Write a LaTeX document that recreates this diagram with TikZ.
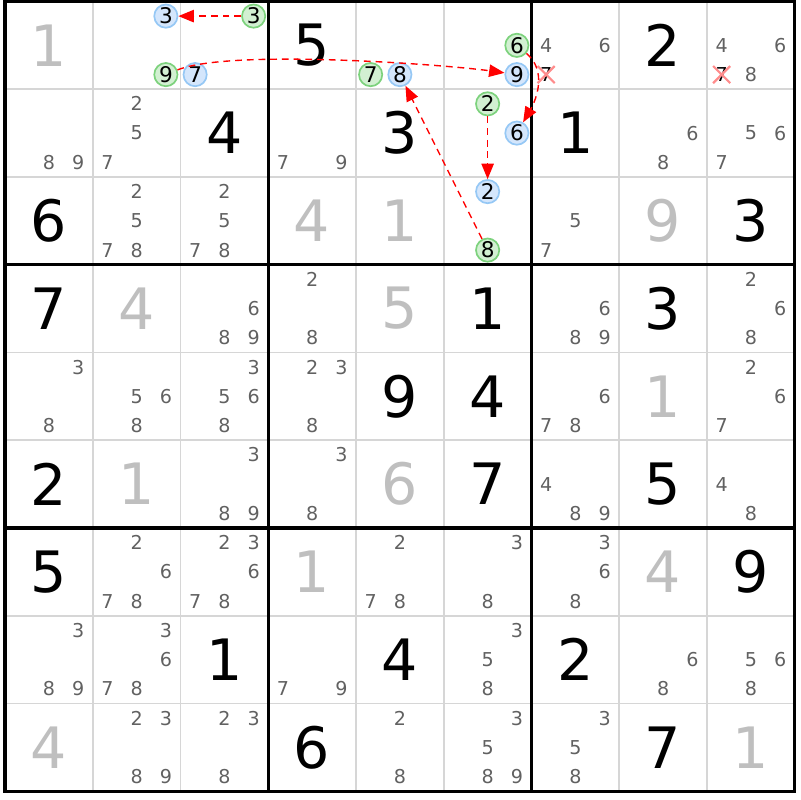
\documentclass[tikz,border=0pt]{standalone}
\usepackage{fontspec}
\setmainfont{DejaVu Sans}
\usepackage{tikz}
\usetikzlibrary{arrows.meta, shapes.misc}

\definecolor{blueline}{RGB}{150,200,245}
\definecolor{bluefill}{RGB}{212,230,252}
\definecolor{greenline}{RGB}{125,210,125}
\definecolor{greenfill}{RGB}{210,240,210}

\tikzset{
    given/.style={text=black!25, font=\fontsize{18.5}{20}\selectfont, inner sep=0pt},
    solved/.style={text=black, font=\fontsize{18.5}{20}\selectfont, inner sep=0pt},
    cand/.style={text=black!62, font=\fontsize{6.2}{7}\selectfont, inner sep=0pt},
    crossed/.style={cand, text=black, cross out, draw=red!45, line width=0.7pt, minimum size=0.17cm},
    bluecand/.style={circle, draw=blueline, fill=bluefill, line width=0.55pt, minimum size=0.265cm, inner sep=0pt, font=\fontsize{7}{8}\selectfont},
    greencand/.style={circle, draw=greenline, fill=greenfill, line width=0.55pt, minimum size=0.265cm, inner sep=0pt, font=\fontsize{7}{8}\selectfont},
    thingrid/.style={draw=black!16, line width=0.6pt},
    boxgrid/.style={draw=black, line width=1pt},
    link/.style={red, line width=0.45pt, dash pattern=on 2.2pt off 1.6pt, -{Triangle[length=5pt, width=4pt]}}
}

% candidates of one cell: [style]{row}{col}{digits}
\newcommand{\cands}[4][cand]{%
    \foreach \d in {#4}{
        \pgfmathsetmacro{\cx}{#3-1+(mod(\d-1,3)+0.5)/3}
        \pgfmathsetmacro{\cy}{-(#2-1)-(floor((\d-1)/3)+0.5)/3}
        \node[#1] (c#2#3\d) at (\cx,\cy) {\d};
    }}
% big digit: [style]{row}{col}{digit}
\newcommand{\bigd}[4][solved]{%
    \node[#1] (d#2#3) at (#3-0.5,-#2+0.5) {#4};}

\begin{document}
\begin{tikzpicture}
    \useasboundingbox (-0.057,0.017) rectangle (9.06,-9.10);

    % grid
    \foreach \i in {1,2,4,5,7,8} {
        \draw[thingrid] (\i,0) -- (\i,-9);
        \draw[thingrid] (0,-\i) -- (9,-\i);
    }
    \foreach \i in {3,6} {
        \draw[boxgrid] (\i,0) -- (\i,-9);
        \draw[boxgrid] (0,-\i) -- (9,-\i);
    }
    \draw[boxgrid] (0,0) rectangle (9,-9);

    % digits
    \bigd[given]{1}{1}{1}
    \bigd{1}{4}{5}
    \bigd{1}{8}{2}
    \bigd{2}{3}{4}
    \bigd{2}{5}{3}
    \bigd{2}{7}{1}
    \bigd{3}{1}{6}
    \bigd[given]{3}{4}{4}
    \bigd[given]{3}{5}{1}
    \bigd[given]{3}{8}{9}
    \bigd{3}{9}{3}
    \bigd{4}{1}{7}
    \bigd[given]{4}{2}{4}
    \bigd[given]{4}{5}{5}
    \bigd{4}{6}{1}
    \bigd{4}{8}{3}
    \bigd{5}{5}{9}
    \bigd{5}{6}{4}
    \bigd[given]{5}{8}{1}
    \bigd{6}{1}{2}
    \bigd[given]{6}{2}{1}
    \bigd[given]{6}{5}{6}
    \bigd{6}{6}{7}
    \bigd{6}{8}{5}
    \bigd{7}{1}{5}
    \bigd[given]{7}{4}{1}
    \bigd[given]{7}{8}{4}
    \bigd{7}{9}{9}
    \bigd{8}{3}{1}
    \bigd{8}{5}{4}
    \bigd{8}{7}{2}
    \bigd[given]{9}{1}{4}
    \bigd{9}{4}{6}
    \bigd{9}{8}{7}
    \bigd[given]{9}{9}{1}

    % candidates
    \cands[bluecand]{1}{2}{3}
    \cands[greencand]{1}{2}{9}
    \cands[greencand]{1}{3}{3}
    \cands[bluecand]{1}{3}{7}
    \cands[greencand]{1}{5}{7}
    \cands[bluecand]{1}{5}{8}
    \cands[greencand]{1}{6}{6}
    \cands[bluecand]{1}{6}{9}
    \cands{1}{7}{4,6}
    \cands[crossed]{1}{7}{7}
    \cands{1}{9}{4,6,8}
    \cands[crossed]{1}{9}{7}
    \cands{2}{1}{8,9}
    \cands{2}{2}{2,5,7}
    \cands{2}{4}{7,9}
    \cands[greencand]{2}{6}{2}
    \cands[bluecand]{2}{6}{6}
    \cands{2}{8}{6,8}
    \cands{2}{9}{5,6,7}
    \cands{3}{2}{2,5,7,8}
    \cands{3}{3}{2,5,7,8}
    \cands[bluecand]{3}{6}{2}
    \cands[greencand]{3}{6}{8}
    \cands{3}{7}{5,7}
    \cands{4}{3}{6,8,9}
    \cands{4}{4}{2,8}
    \cands{4}{7}{6,8,9}
    \cands{4}{9}{2,6,8}
    \cands{5}{1}{3,8}
    \cands{5}{2}{5,6,8}
    \cands{5}{3}{3,5,6,8}
    \cands{5}{4}{2,3,8}
    \cands{5}{7}{6,7,8}
    \cands{5}{9}{2,6,7}
    \cands{6}{3}{3,8,9}
    \cands{6}{4}{3,8}
    \cands{6}{7}{4,8,9}
    \cands{6}{9}{4,8}
    \cands{7}{2}{2,6,7,8}
    \cands{7}{3}{2,3,6,7,8}
    \cands{7}{5}{2,7,8}
    \cands{7}{6}{3,8}
    \cands{7}{7}{3,6,8}
    \cands{8}{1}{3,8,9}
    \cands{8}{2}{3,6,7,8}
    \cands{8}{4}{7,9}
    \cands{8}{6}{3,5,8}
    \cands{8}{8}{6,8}
    \cands{8}{9}{5,6,8}
    \cands{9}{2}{2,3,8,9}
    \cands{9}{3}{2,3,8}
    \cands{9}{5}{2,8}
    \cands{9}{6}{3,5,8,9}
    \cands{9}{7}{3,5,8}

    % chain
    \draw[link] (c133) -- (c123);
    \draw[link] (c129) to[out=22, in=172, looseness=0.45] (c169);
    \draw[link] (c166) to[out=-40, in=60] (c266);
    \draw[link] (c262) -- (c362);
    \draw[link] (c368) -- (c158);
\end{tikzpicture}
\end{document}
